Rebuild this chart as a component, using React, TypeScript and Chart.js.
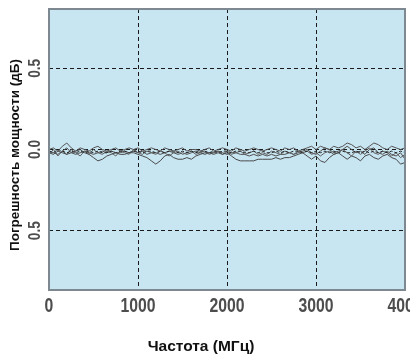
import React, { useEffect, useRef } from "react";
import { Chart, registerables } from "chart.js";

Chart.register(...registerables);

const freqs = [
  0, 50, 100, 150, 200, 250, 300, 350, 400, 450,
  500, 550, 600, 650, 700, 750, 800, 850, 900, 950,
  1000, 1050, 1100, 1150, 1200, 1250, 1300, 1350, 1400, 1450,
  1500, 1550, 1600, 1650, 1700, 1750, 1800, 1850, 1900, 1950,
  2000, 2050, 2100, 2150, 2200, 2250, 2300, 2350, 2400, 2450,
  2500, 2550, 2600, 2650, 2700, 2750, 2800, 2850, 2900, 2950,
  3000, 3050, 3100, 3150, 3200, 3250, 3300, 3350, 3400, 3450,
  3500, 3550, 3600, 3650, 3700, 3750, 3800, 3850, 3900, 3950,
  4000,
];

const trace1 = [
  -0.02, -0.03, -0.01, -0.02, -0.03, -0.02, -0.01, 0.0, -0.02, -0.03,
  -0.05, -0.07, -0.06, -0.04, -0.03, -0.02, -0.03, -0.03, -0.02, -0.02,
  -0.03, -0.04, -0.05, -0.07, -0.09, -0.07, -0.04, -0.03, -0.05, -0.06,
  -0.06, -0.05, -0.06, -0.04, -0.03, -0.02, -0.02, -0.03, -0.02, -0.03,
  -0.02, -0.04, -0.06, -0.07, -0.07, -0.07, -0.07, -0.06, -0.06, -0.06,
  -0.06, -0.05, -0.06, -0.05, -0.05, -0.04, -0.03, -0.02, -0.04, -0.06,
  -0.04, -0.07, -0.08, -0.05, -0.03, -0.02, -0.04, -0.06, -0.04, -0.05,
  -0.07, -0.04, -0.03, -0.05, -0.06, -0.04, -0.03, -0.05, -0.06, -0.09,
  -0.08,
];

const trace2 = [
  0.0, 0.01, -0.01, 0.02, 0.04, 0.01, -0.01, 0.01, 0.0, -0.01,
  0.01, 0.02, 0.0, -0.01, 0.0, 0.01, -0.01, 0.0, 0.01, 0.0,
  0.01, -0.01, 0.0, 0.01, 0.0, -0.01, 0.01, 0.0, -0.01, 0.0,
  0.01, -0.01, 0.0, 0.0, -0.01, 0.0, 0.01, -0.01, 0.0, 0.01,
  0.0, -0.01, 0.01, 0.0, -0.01, 0.0, 0.01, 0.0, -0.01, 0.0,
  0.01, 0.0, -0.01, 0.01, 0.0, 0.01, -0.01, 0.0, 0.01, 0.02,
  0.0, 0.02, 0.01, 0.0, 0.02, 0.01, 0.02, 0.04, 0.03, 0.01,
  0.02, 0.0, 0.02, 0.04, 0.03, 0.01, 0.0, 0.02, 0.01, 0.0,
  0.01,
];

const trace3 = [
  -0.01, -0.02, 0.0, -0.01, -0.02, -0.01, -0.02, -0.01, -0.02, -0.01,
  -0.02, -0.01, -0.02, -0.02, -0.01, -0.02, -0.01, -0.01, -0.02, -0.01,
  -0.01, -0.02, -0.01, -0.01, -0.02, -0.01, -0.02, -0.01, -0.01, -0.02,
  -0.01, -0.02, -0.01, -0.02, -0.01, -0.01, -0.02, -0.01, -0.02, -0.01,
  -0.01, -0.02, -0.01, -0.01, -0.02, -0.02, -0.01, -0.02, -0.01, -0.02,
  -0.02, -0.01, -0.02, -0.01, -0.02, -0.01, -0.01, -0.02, -0.01, -0.02,
  -0.01, -0.02, -0.01, -0.02, -0.01, -0.02, -0.01, -0.02, -0.02, -0.01,
  -0.02, -0.01, -0.02, -0.01, -0.02, -0.01, -0.02, -0.01, -0.02, -0.01,
  -0.02,
];

const trace4 = [
  -0.03, 0.0, -0.04, -0.01, -0.03, 0.0, -0.02, -0.04, -0.01, -0.03,
  0.0, -0.02, -0.03, -0.01, -0.02, -0.04, -0.01, -0.02, -0.03, 0.0,
  -0.02, -0.03, -0.01, -0.02, -0.03, -0.01, -0.02, -0.04, -0.02, -0.01,
  -0.03, -0.02, -0.01, -0.03, -0.02, -0.01, -0.03, -0.02, -0.01, -0.03,
  -0.01, -0.03, -0.02, -0.01, -0.03, -0.02, -0.01, -0.03, -0.02, -0.03,
  -0.01, -0.02, -0.03, -0.01, -0.02, -0.03, -0.01, -0.02, -0.01, -0.03,
  -0.02, -0.04, -0.02, -0.01, -0.03, -0.02, 0.0, -0.02, -0.04, -0.01,
  -0.03, -0.01, 0.01, -0.02, -0.03, -0.01, -0.02, -0.04, -0.02, -0.05,
  -0.03,
];

const trace5 = [
  -0.01, -0.02, -0.03, -0.01, 0.01, -0.02, -0.03, -0.02, -0.01, -0.02,
  -0.03, -0.02, -0.01, -0.02, -0.01, -0.02, -0.02, -0.01, -0.02, -0.01,
  -0.02, -0.01, -0.03, -0.02, -0.02, -0.03, -0.02, -0.01, -0.02, -0.03,
  -0.02, -0.03, -0.02, -0.01, -0.02, -0.03, -0.02, -0.02, -0.01, -0.02,
  -0.03, -0.02, -0.02, -0.03, -0.03, -0.04, -0.03, -0.04, -0.03, -0.04,
  -0.03, -0.04, -0.03, -0.03, -0.02, -0.03, -0.02, -0.01, 0.0, -0.02,
  -0.03, -0.01, 0.01, 0.0, -0.02, -0.01, 0.0, 0.02, 0.0, -0.02,
  -0.01, -0.03, 0.0, 0.01, -0.02, -0.03, -0.01, -0.03, -0.04, -0.02,
  -0.06,
];

const xTicks = [0, 1000, 2000, 3000, 4000];
const yTicks = [-0.5, 0, 0.5];
const xTitle = "Частота (МГц)";
const yTitle = "Погрешность мощности (дБ)";

const traces = [trace1, trace2, trace3, trace4, trace5];
const traceColors = ["#4a4a4a", "#555555", "#222222", "#606060", "#505050"];
const traceDash = [[], [], [3, 2], [], []];

const decorPlugin = {
  id: "decor",
  beforeDraw(chart: any) {
    const { ctx, chartArea } = chart;
    ctx.save();
    ctx.fillStyle = "#c8e5f2";
    ctx.fillRect(chartArea.left, chartArea.top, chartArea.right - chartArea.left, chartArea.bottom - chartArea.top);
    ctx.restore();
  },
  afterDraw(chart: any) {
    const { ctx, chartArea, scales } = chart;
    ctx.save();
    ctx.strokeStyle = "#7d8890";
    ctx.lineWidth = 2;
    ctx.strokeRect(chartArea.left, chartArea.top, chartArea.right - chartArea.left, chartArea.bottom - chartArea.top);

    ctx.fillStyle = "#4d4d4d";
    ctx.textAlign = "center";
    ctx.textBaseline = "middle";
    ctx.font = "bold 21px 'Liberation Sans', Arial, sans-serif";
    for (const v of xTicks) {
      const px = scales.x.getPixelForValue(v);
      ctx.save();
      ctx.translate(px, 306);
      ctx.scale(0.75, 1);
      ctx.fillText(String(v), 0, 0);
      ctx.restore();
    }
    ctx.font = "bold 16px 'Liberation Sans', Arial, sans-serif";
    for (const v of yTicks) {
      const py = scales.y.getPixelForValue(v);
      ctx.save();
      ctx.translate(36, py);
      ctx.rotate(-Math.PI / 2);
      ctx.scale(0.85, 1);
      ctx.fillText(Math.abs(v).toFixed(1), 0, 0);
      ctx.restore();
    }

    ctx.fillStyle = "#111111";
    ctx.font = "bold 15.5px 'Liberation Sans', Arial, sans-serif";
    ctx.fillText(xTitle, 201, 347);
    ctx.font = "bold 13.5px 'Liberation Sans', Arial, sans-serif";
    ctx.save();
    ctx.translate(15, 155);
    ctx.rotate(-Math.PI / 2);
    ctx.fillText(yTitle, 0, 0);
    ctx.restore();
    ctx.restore();
  },
};

export default function App() {
  const ref = useRef<HTMLCanvasElement | null>(null);
  useEffect(() => {
    if (!ref.current) return;
    const chart = new Chart(ref.current, {
      type: "line",
      data: {
        datasets: traces.map((t, i) => ({
          data: freqs.map((f, j) => ({ x: f, y: t[j] })),
          borderColor: traceColors[i],
          borderWidth: 1,
          borderDash: traceDash[i],
          pointRadius: 0,
          tension: 0,
          fill: false,
        })),
      },
      options: {
        responsive: false,
        animation: false,
        devicePixelRatio: 1,
        layout: { padding: { top: 9, right: 25, left: 0, bottom: 0 } },
        plugins: { legend: { display: false }, tooltip: { enabled: false } },
        scales: {
          x: {
            type: "linear",
            min: 0,
            max: 4000,
            afterBuildTicks: (s: any) => {
              s.ticks = xTicks.map((v) => ({ value: v }));
            },
            afterFit: (s: any) => {
              s.height = 66;
            },
            ticks: { display: false },
            border: { display: false, dash: [4, 3] },
            grid: { color: "#1a1a1a", lineWidth: 1, drawTicks: false },
          },
          y: {
            type: "linear",
            min: -0.865,
            max: 0.865,
            afterBuildTicks: (s: any) => {
              s.ticks = yTicks.map((v) => ({ value: v }));
            },
            afterFit: (s: any) => {
              s.width = 49;
            },
            ticks: { display: false },
            border: { display: false, dash: [4, 3] },
            grid: { color: "#1a1a1a", lineWidth: 1, drawTicks: false },
          },
        },
      },
      plugins: [decorPlugin],
    });
    return () => chart.destroy();
  }, []);
  return (
    <div style={{ position: "fixed", left: 0, top: 0, width: 410, height: 356, overflow: "hidden", background: "#ffffff" }}>
      <canvas ref={ref} width={430} height={356} style={{ width: 430, height: 356, display: "block" }} />
    </div>
  );
}
